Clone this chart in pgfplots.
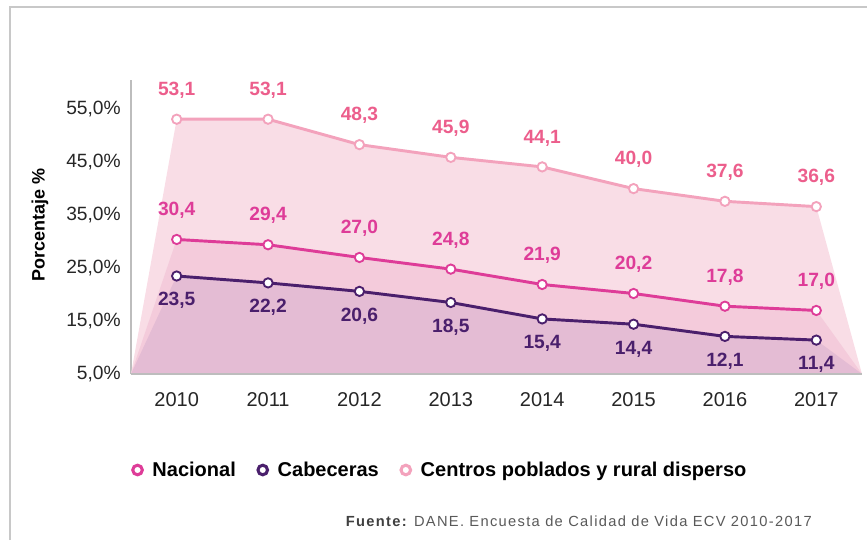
\documentclass[border=0pt]{standalone}
\usepackage{pgfplots}
\pgfplotsset{compat=1.18}
\usepackage{fontspec}
\setmainfont{Liberation Sans}
\newfontfamily\fuentefont[LetterSpace=9]{Liberation Sans}
\definecolor{cpArea}{HTML}{F9DDE6}
\definecolor{naArea}{HTML}{F4CBDB}
\definecolor{caArea}{HTML}{E4BCD4}
\definecolor{cpLine}{HTML}{F3A2BC}
\definecolor{cpText}{HTML}{EC5E8C}
\definecolor{naLine}{HTML}{DE3C98}
\definecolor{caLine}{HTML}{4A1F6C}
\definecolor{axisgray}{HTML}{BDBDBD}
\definecolor{framegray}{HTML}{C8C8C8}
\begin{document}
\begin{tikzpicture}
\path[use as bounding box] (0,0) rectangle (650.25pt,-405pt);
\draw[framegray, line width=1.6pt] (7.5pt,-405pt) -- (7.5pt,-5.25pt) -- (650.25pt,-5.25pt);
\begin{axis}[
  at={(98.25pt,-280.5pt)}, anchor=south west,
  scale only axis, width=548.25pt, height=220.5pt,
  xmin=-0.5, xmax=7.5, ymin=5, ymax=60.5,
  clip=false,
  axis x line=bottom, axis y line=left,
  axis line style={-, draw=axisgray, line width=1.2pt},
  xtick={0,...,7},
  xticklabels={2010,2011,2012,2013,2014,2015,2016,2017},
  ytick={5,15,25,35,45,55},
  yticklabels={{5,0\%},{15,0\%},{25,0\%},{35,0\%},{45,0\%},{55,0\%}},
  major tick length=0pt,
  tick label style={font=\fontsize{14.4}{16}\selectfont, text=black!85},
  xticklabel style={font=\fontsize{15}{16}\selectfont, inner sep=0pt, yshift=-13.5pt},
  yticklabel style={inner sep=0pt, xshift=-7.5pt},
  ylabel={Porcentaje \%},
  every axis y label/.style={at={(axis description cs:-0.1245,0.507)}, rotate=90, anchor=center, font=\bfseries\fontsize{13.5}{16}\selectfont},
  /pgf/number format/use comma,
  /pgf/number format/fixed,
  /pgf/number format/fixed zerofill,
  /pgf/number format/precision=1,
  /pgf/number format/assume math mode=true,
  legend style={at={(axis description cs:0.0,-0.3265)}, anchor=west, draw=none, fill=none,
    font=\bfseries\fontsize{15}{17}\selectfont, legend columns=-1, inner sep=0pt,
    /tikz/every even column/.append style={column sep=13.5pt}},
  legend image code/.code={\draw[#1] plot coordinates {(4.5pt,0pt)}; \path (0pt,0pt) (13.5pt,0pt);},
]
% areas
\addplot[fill=cpArea, draw=none, forget plot] coordinates {(-0.5,5) (0,53.1) (1,53.1) (2,48.3) (3,45.9) (4,44.1) (5,40.0) (6,37.6) (7,36.6) (7.5,5)} -- cycle;
\addplot[fill=naArea, draw=none, forget plot] coordinates {(-0.5,5) (0,30.4) (1,29.4) (2,27.0) (3,24.8) (4,21.9) (5,20.2) (6,17.8) (7,17.0) (7.5,5)} -- cycle;
\addplot[fill=caArea, draw=none, forget plot] coordinates {(-0.5,5) (0,23.5) (1,22.2) (2,20.6) (3,18.5) (4,15.4) (5,14.4) (6,12.1) (7,11.4) (7.5,5)} -- cycle;
\draw[axisgray, line width=1.2pt] (axis cs:-0.5,5) -- (axis cs:7.5,5);
% lines
\addplot[cpLine, line width=2.2pt, mark=*, mark size=3.5pt, mark options={fill=white, draw=cpLine, line width=1.4pt}, forget plot,
  nodes near coords, every node near coord/.append style={font=\bfseries\fontsize{14.4}{16}\selectfont, text=cpText, anchor=center, inner sep=0pt, yshift=21.75pt}]
  coordinates {(0,53.1) (1,53.1) (2,48.3) (3,45.9) (4,44.1) (5,40.0) (6,37.6) (7,36.6)};
\addplot[naLine, line width=2.2pt, mark=*, mark size=3.5pt, mark options={fill=white, draw=naLine, line width=1.4pt}, forget plot,
  nodes near coords, every node near coord/.append style={font=\bfseries\fontsize{14.4}{16}\selectfont, text=naLine, anchor=center, inner sep=0pt, yshift=21.75pt}]
  coordinates {(0,30.4) (1,29.4) (2,27.0) (3,24.8) (4,21.9) (5,20.2) (6,17.8) (7,17.0)};
\addplot[caLine, line width=2.2pt, mark=*, mark size=3.5pt, mark options={fill=white, draw=caLine, line width=1.4pt}, forget plot,
  nodes near coords, every node near coord/.append style={font=\bfseries\fontsize{14.4}{16}\selectfont, text=caLine, anchor=center, inner sep=0pt, yshift=-18.5pt}]
  coordinates {(0,23.5) (1,22.2) (2,20.6) (3,18.5) (4,15.4) (5,14.4) (6,12.1) (7,11.4)};
% legend
\addlegendimage{only marks, mark=*, mark size=3.6pt, mark options={fill=white, draw=naLine, line width=2.3pt}}
\addlegendentry{Nacional}
\addlegendimage{only marks, mark=*, mark size=3.6pt, mark options={fill=white, draw=caLine, line width=2.3pt}}
\addlegendentry{Cabeceras}
\addlegendimage{only marks, mark=*, mark size=3.6pt, mark options={fill=white, draw=cpLine, line width=2.3pt}}
\addlegendentry{Centros poblados y rural disperso}
\end{axis}
\node[anchor=east, inner sep=0pt, text=black!65] at (609pt,-390.75pt) {\fuentefont\fontsize{11}{12}\selectfont\textbf{\color{black!75}Fuente:} DANE. Encuesta de Calidad de Vida ECV 2010-2017};
\end{tikzpicture}
\end{document}
